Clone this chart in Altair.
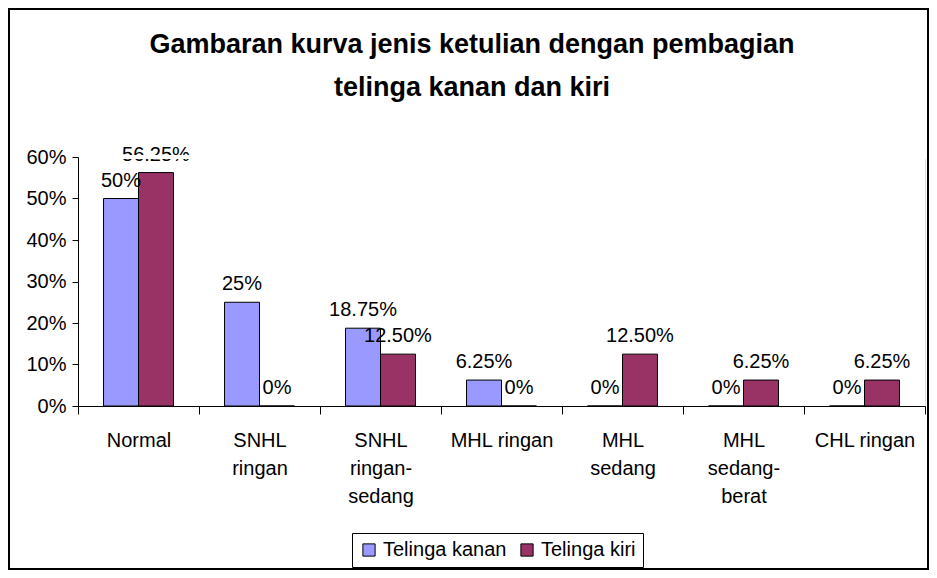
import altair as alt
import pandas as pd

categories = ["Normal", "SNHL|ringan", "SNHL|ringan-|sedang", "MHL ringan",
              "MHL|sedang", "MHL|sedang-|berat", "CHL ringan"]
series = ["Telinga kanan", "Telinga kiri"]
kanan = [0.50, 0.25, 0.1875, 0.0625, 0.0, 0.0, 0.0]
kiri = [0.5625, 0.0, 0.125, 0.0, 0.125, 0.0625, 0.0625]
label_kanan = ["50%", "25%", "18.75%", "6.25%", "0%", "0%", "0%"]
label_kiri = ["56.25%", "0%", "12.50%", "0%", "12.50%", "6.25%", "6.25%"]
title_lines = ["Gambaran kurva jenis ketulian dengan pembagian", "telinga kanan dan kiri"]

rows = []
for i, c in enumerate(categories):
    rows.append({"cat": c, "series": series[0], "value": kanan[i], "label": label_kanan[i]})
    rows.append({"cat": c, "series": series[1], "value": kiri[i], "label": label_kiri[i]})
df = pd.DataFrame(rows)

FONT = "Liberation Sans"

x_enc = alt.X("cat:N", sort=categories, title=None,
              scale=alt.Scale(paddingInner=0, paddingOuter=0),
              axis=alt.Axis(labelExpr="split(datum.label, '|')", labelAngle=0,
                            tickBand="extent", tickSize=8, tickColor="black",
                            domainColor="black", labelFontSize=20, labelColor="black",
                            labelPadding=16, labelLineHeight=28, labelBaseline="top",
                            labelFont=FONT, grid=False, zindex=0))
xo_enc = alt.XOffset("series:N", sort=series,
                     scale=alt.Scale(paddingInner=0, paddingOuter=0.73))
y_enc = alt.Y("value:Q", title=None,
              scale=alt.Scale(domain=[0, 0.6], nice=False),
              axis=alt.Axis(format=".0%", values=[0, 0.1, 0.2, 0.3, 0.4, 0.5, 0.6],
                            grid=False, tickSize=6, tickColor="black",
                            domainColor="black", labelFontSize=20, labelColor="black",
                            labelPadding=6, labelFont=FONT, zindex=0))

bars = alt.Chart(df).mark_bar(stroke="black", strokeWidth=1).encode(
    x=x_enc, xOffset=xo_enc, y=y_enc,
    color=alt.Color("series:N", sort=series,
                    scale=alt.Scale(domain=series, range=["#9999FF", "#993366"]),
                    legend=alt.Legend(orient="none", legendX=274, legendY=376,
                                      direction="horizontal", title=None,
                                      strokeColor="black", padding=7,
                                      symbolType="square", symbolSize=150,
                                      symbolStrokeColor="black", symbolStrokeWidth=1,
                                      labelFontSize=20, labelFont=FONT,
                                      labelColor="black", columnPadding=10))
)

labels = alt.Chart(df).mark_text(baseline="bottom", dy=-8, fontSize=20,
                                 font=FONT, color="black").encode(
    x=alt.X("cat:N", sort=categories), xOffset=alt.XOffset("series:N", sort=series),
    y="value:Q", text="label:N"
)

title1 = alt.Chart(pd.DataFrame({"t": [title_lines[0]]})).mark_text(
    fontSize=27, fontWeight="bold", font=FONT, color="black", baseline="middle").encode(
    x=alt.value(394), y=alt.value(-112), text="t:N"
)
title2 = alt.Chart(pd.DataFrame({"t": [title_lines[1]]})).mark_text(
    fontSize=27, fontWeight="bold", font=FONT, color="black", baseline="middle").encode(
    x=alt.value(394), y=alt.value(-69), text="t:N"
)

border = alt.Chart(pd.DataFrame({"a": [0]})).mark_rect(
    fillOpacity=0, stroke="black", strokeWidth=2).encode(
    x=alt.value(-69), x2=alt.value(850), y=alt.value(-148), y2=alt.value(412)
)

cover = alt.Chart(pd.DataFrame({"a": [0]})).mark_rule(
    stroke="white", strokeWidth=4).encode(
    x=alt.value(1), x2=alt.value(849), y=alt.value(0)
)

chart = alt.layer(border, bars, labels, title1, title2, cover).properties(
    width=847, height=249,
    padding={"left": 70, "top": 149, "right": 4, "bottom": 164},
    autosize=alt.AutoSizeParams(type="none"),
).configure_view(stroke="transparent", strokeWidth=0).configure(font=FONT).configure_axis(
    grid=False, gridOpacity=0, zindex=0)

chart.save("out.html", embed_options={"renderer": "svg", "actions": False})
